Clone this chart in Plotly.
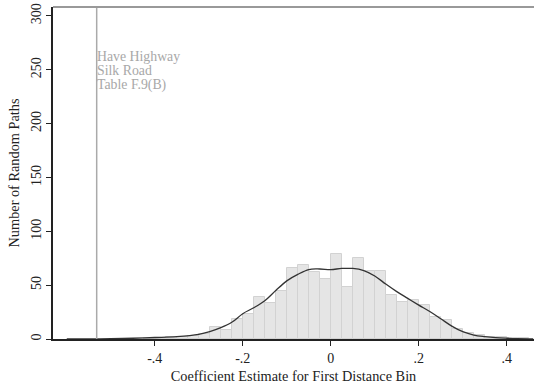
import plotly.graph_objects as go

# Histogram bins (left edges) and counts
bin_left = [-0.425, -0.4, -0.375, -0.35, -0.325, -0.3, -0.275, -0.25, -0.225, -0.2,
            -0.175, -0.15, -0.125, -0.1, -0.075, -0.05, -0.025, 0.0, 0.025, 0.05,
            0.075, 0.1, 0.125, 0.15, 0.175, 0.2, 0.225, 0.25, 0.275, 0.3,
            0.325, 0.35, 0.375, 0.4, 0.425]
counts = [0.5, 1, 1.5, 2, 3, 5, 11, 8, 19, 23,
          39, 33, 45, 66, 69, 62, 56, 79, 48, 75,
          63, 63, 41, 34, 36, 32, 20, 18, 9, 6,
          4, 2, 1.5, 1, 0.5]
bin_width = 0.025

# Kernel density curve (scaled to counts)
kd_x = [-0.6, -0.55, -0.5, -0.45, -0.4, -0.35, -0.3, -0.275, -0.25, -0.225, -0.2,
        -0.175, -0.15, -0.125, -0.1, -0.075, -0.05, -0.025, 0.0, 0.025, 0.05,
        0.075, 0.1, 0.125, 0.15, 0.175, 0.2, 0.225, 0.25, 0.275, 0.3, 0.325,
        0.35, 0.375, 0.4, 0.425, 0.46]
kd_y = [0.05, 0.15, 0.3, 0.7, 1.4, 2.2, 4.3, 6.8, 10.5, 15.5, 23.5,
        29, 35.5, 45, 54, 60, 64.5, 65, 64.5, 65.5, 65.5,
        63.5, 58.5, 51, 44, 37.7, 31.5, 25.5, 18.8, 12, 6.8, 3.7,
        2.2, 1.2, 0.7, 0.4, 0.2]

x_ticks = [-0.4, -0.2, 0, 0.2, 0.4]
x_tick_labels = ["-.4", "-.2", "0", ".2", ".4"]
y_ticks = [0, 50, 100, 150, 200, 250, 300]
y_tick_labels = ["0", "50", "100", "150", "200", "250", "300"]

actual_value = -0.532
note_lines = ["Have Highway", "Silk Road", "Table F.9(B)"]
note_y = [262.8, 249.2, 235.6]

FONT = "Liberation Serif"
TXT = 14.3
TICK = 14

fig = go.Figure()
fig.add_trace(go.Bar(
    x=[b + bin_width / 2 for b in bin_left], y=counts, width=bin_width,
    marker=dict(color="#e5e5e5", line=dict(color="#d2d2d2", width=1)),
    showlegend=False, hoverinfo="skip"))
fig.add_trace(go.Scatter(
    x=kd_x, y=kd_y, mode="lines", line=dict(color="#333333", width=1.3, shape="spline"),
    showlegend=False))

fig.add_shape(type="line", x0=actual_value, x1=actual_value, y0=0, y1=1, yref="paper",
              line=dict(color="#aaaaaa", width=1.5))
fig.add_shape(type="line", x0=0, x1=1, xref="paper", y0=1, y1=1, yref="paper",
              line=dict(color="#999999", width=2))

for t, yy in zip(note_lines, note_y):
    fig.add_annotation(x=actual_value, y=yy, text=t, showarrow=False, xanchor="left",
                       yanchor="middle", xshift=-1, borderpad=0,
                       font=dict(family=FONT, size=13.8, color="#a8a8a8"))

fig.update_layout(
    width=534, height=389,
    margin=dict(l=53, r=0, t=7, b=50),
    plot_bgcolor="white", paper_bgcolor="white",
    bargap=0,
    font=dict(family=FONT, size=TICK, color="#222222"),
    xaxis=dict(range=[-0.6313, 0.4619], tickvals=x_ticks, ticktext=x_tick_labels,
               showgrid=False, zeroline=False, showline=True, linecolor="#222222",
               linewidth=1.5, ticks="outside", ticklen=5, tickcolor="#222222",
               tickfont=dict(family=FONT, size=TICK, color="#222222"),
               title=dict(text="Coefficient Estimate for First Distance Bin",
                          font=dict(family=FONT, size=TXT, color="#222222"), standoff=6)),
    yaxis=dict(range=[0, 308.3], tickvals=y_ticks, ticktext=y_tick_labels,
               showgrid=False, zeroline=False, showline=True, linecolor="#222222",
               linewidth=1.5, ticks="outside", ticklen=5, tickcolor="#222222",
               tickangle=-90,
               tickfont=dict(family=FONT, size=TICK, color="#222222"),
               title=dict(text="Number of Random Paths",
                          font=dict(family=FONT, size=TXT, color="#222222"), standoff=6)),
)

fig.write_html("out.html")
